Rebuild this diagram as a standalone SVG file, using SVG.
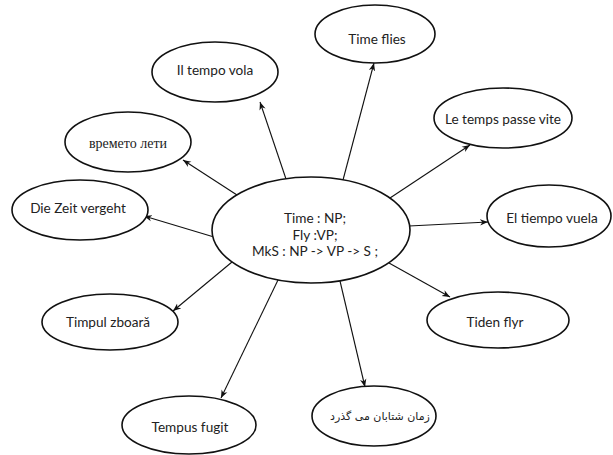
<svg xmlns="http://www.w3.org/2000/svg" width="613" height="455" viewBox="0 0 613 455">
  <style>
    .node ellipse { fill: #ffffff; stroke: #111111; stroke-width: 1.6; }
    .lbl { font-family: "Lato", "Open Sans", "Liberation Sans", sans-serif; font-size: 13.6px; fill: #222222; text-anchor: middle; }
    .cyr { font-family: "Liberation Serif", "DejaVu Serif", serif; font-size: 14px; fill: #222222; text-anchor: middle; }
    .fa { font-family: "DejaVu Sans", "Noto Sans", sans-serif; font-size: 11px; fill: #222222; text-anchor: middle; }
    .edges line { stroke: #111111; stroke-width: 1.1; marker-end: url(#arrow); }
  </style>
  <defs>
    <marker id="arrow" viewBox="0 0 10 10" refX="10" refY="5" markerWidth="8" markerHeight="8" markerUnits="userSpaceOnUse" orient="auto">
      <path d="M0,1 L10,5 L0,9 L3,5 Z" fill="#111111"/>
    </marker>
  </defs>

  <!-- connectors from the central node -->
  <g id="edges" class="edges">
    <line x1="343" y1="180" x2="374" y2="63"/>
    <line x1="286" y1="179" x2="260" y2="102"/>
    <line x1="390" y1="198" x2="470" y2="145"/>
    <line x1="409" y1="226" x2="488" y2="222"/>
    <line x1="389" y1="263" x2="450" y2="297"/>
    <line x1="340" y1="281" x2="365" y2="387"/>
    <line x1="278" y1="280" x2="221" y2="398"/>
    <line x1="232" y1="262" x2="173" y2="311"/>
    <line x1="214" y1="237" x2="144" y2="216"/>
    <line x1="237" y1="195" x2="183" y2="160"/>
  </g>

  <g id="center" class="node">
    <ellipse cx="311" cy="230" rx="99" ry="53"/>
    <text class="lbl" x="315" y="223">Time : NP;</text>
    <text class="lbl" x="315" y="240">Fly :VP;</text>
    <text class="lbl" x="315" y="256">MkS : NP -&gt; VP -&gt; S ;</text>
  </g>

  <g id="time-flies" class="node">
    <ellipse cx="375" cy="34" rx="60" ry="29"/>
    <text class="lbl" x="377" y="44">Time flies</text>
  </g>

  <g id="il-tempo-vola" class="node">
    <ellipse cx="215" cy="72" rx="63" ry="30"/>
    <text class="lbl" x="215" y="75">Il tempo vola</text>
  </g>

  <g id="le-temps" class="node">
    <ellipse cx="503" cy="118" rx="69" ry="30"/>
    <text class="lbl" x="503" y="124">Le temps passe vite</text>
  </g>

  <g id="el-tiempo" class="node">
    <ellipse cx="549" cy="216" rx="62" ry="31"/>
    <text class="lbl" x="552" y="223">El tiempo vuela</text>
  </g>

  <g id="tiden-flyr" class="node">
    <ellipse cx="498" cy="320" rx="71" ry="28"/>
    <text class="lbl" x="495" y="327">Tiden flyr</text>
  </g>

  <g id="persian" class="node">
    <ellipse cx="374" cy="416" rx="62" ry="30"/>
    <text class="fa" x="380" y="420">زمان شتابان می گذرد</text>
  </g>

  <g id="tempus-fugit" class="node">
    <ellipse cx="189" cy="425" rx="67" ry="29"/>
    <text class="lbl" x="190" y="432">Tempus fugit</text>
  </g>

  <g id="timpul" class="node">
    <ellipse cx="110" cy="322" rx="68" ry="28"/>
    <text class="lbl" x="108" y="327">Timpul zboară</text>
  </g>

  <g id="die-zeit" class="node">
    <ellipse cx="80" cy="210" rx="68" ry="30"/>
    <text class="lbl" x="78" y="213">Die Zeit vergeht</text>
  </g>

  <g id="vremeto" class="node">
    <ellipse cx="128" cy="142" rx="63" ry="30"/>
    <text class="cyr" x="128" y="148">времето лети</text>
  </g>
</svg>
